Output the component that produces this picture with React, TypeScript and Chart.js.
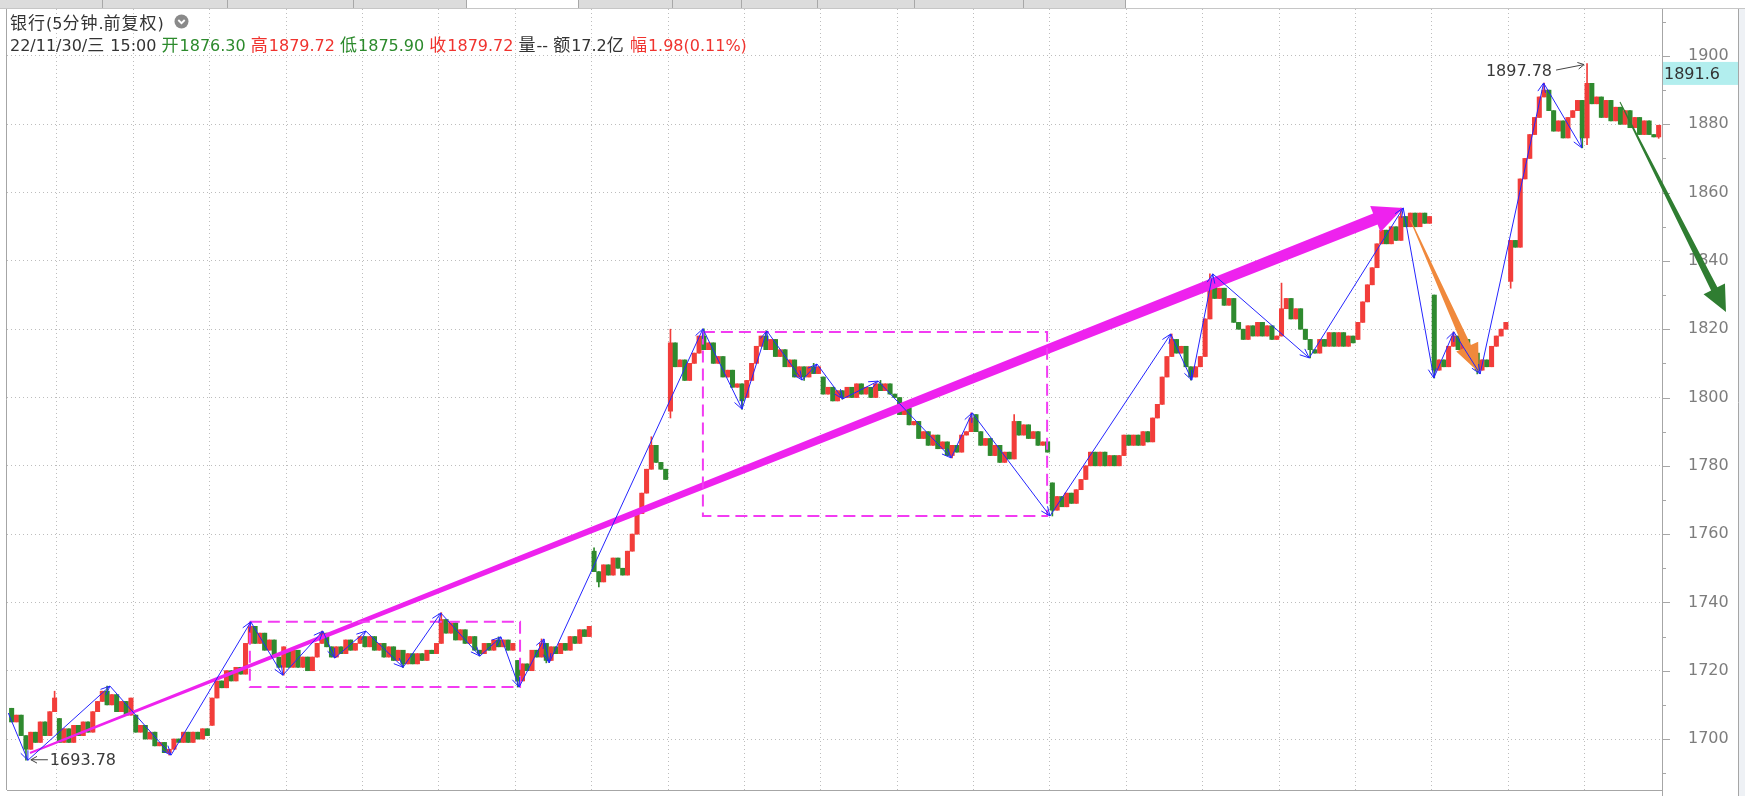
import React, { useEffect, useRef } from "react";
import { Chart, registerables } from "chart.js";

Chart.register(...registerables);

// ================= DATA (15-minute bars) =================
// opening price of each trading session
const sessionOpens = [1709, 1706, 1707, 1704, 1726, 1730, 1728, 1723, 1755, 1796, 1800, 1806, 1800, 1795, 1775, 1789, 1812, 1818, 1817, 1830, 1834, 1876];
// closes of each bar, one list per session
const session00 = [1705, 1707, 1701, 1697, 1702, 1699, 1705, 1701, 1708, 1712];
const session01 = [1699, 1703, 1699, 1704, 1701, 1705, 1702, 1708, 1711, 1714, 1710, 1713, 1708, 1711, 1707, 1712];
const session02 = [1702, 1704, 1700, 1702, 1698, 1699, 1696, 1697, 1700, 1699, 1702, 1699, 1702, 1700, 1703, 1701];
const session03 = [1712, 1717, 1715, 1720, 1717, 1721, 1719, 1728, 1733, 1728, 1731, 1726, 1729, 1724, 1721, 1727];
const session04 = [1721, 1726, 1721, 1724, 1720, 1724, 1728, 1731, 1727, 1724, 1727, 1725, 1729, 1726, 1728, 1730];
const session05 = [1727, 1730, 1726, 1728, 1724, 1727, 1723, 1726, 1722, 1725, 1722, 1725, 1723, 1726, 1725, 1728];
const session06 = [1735, 1731, 1734, 1729, 1732, 1728, 1730, 1726, 1725, 1728, 1726, 1729, 1727, 1729, 1726, 1728];
const session07 = [1717, 1722, 1720, 1726, 1724, 1728, 1723, 1727, 1725, 1728, 1726, 1730, 1728, 1732, 1730, 1733];
const session08 = [1749, 1746, 1751, 1748, 1753, 1750, 1748, 1755, 1760, 1766, 1772, 1779, 1786, 1781, 1779, 1776];
const session09 = [1816, 1809, 1811, 1805, 1810, 1813, 1818, 1814, 1816, 1810, 1812, 1806, 1808, 1803, 1804, 1799];
const session10 = [1805, 1810, 1815, 1818, 1814, 1817, 1812, 1814, 1809, 1811, 1806, 1809, 1806, 1809, 1807, 1809];
const session11 = [1801, 1803, 1799, 1802, 1800, 1803, 1800, 1804, 1801, 1803, 1800, 1804, 1802, 1804, 1801, 1800];
const session12 = [1795, 1797, 1792, 1793, 1788, 1790, 1786, 1789, 1785, 1787, 1783, 1786, 1784, 1789, 1790, 1794];
const session13 = [1790, 1786, 1788, 1783, 1786, 1781, 1784, 1782, 1793, 1789, 1792, 1788, 1790, 1786, 1787, 1784];
const session14 = [1767, 1771, 1768, 1772, 1769, 1773, 1776, 1780, 1784, 1780, 1784, 1780, 1783, 1780, 1783, 1789];
const session15 = [1786, 1789, 1786, 1790, 1787, 1794, 1798, 1806, 1812, 1817, 1813, 1815, 1809, 1806, 1809, 1812];
const session16 = [1823, 1834, 1829, 1832, 1827, 1829, 1822, 1820, 1817, 1821, 1818, 1822, 1818, 1821, 1817, 1818];
const session17 = [1826, 1829, 1823, 1826, 1820, 1817, 1814, 1813, 1817, 1815, 1819, 1815, 1819, 1815, 1818, 1816];
const session18 = [1822, 1828, 1833, 1838, 1845, 1849, 1845, 1850, 1846, 1853, 1850, 1854, 1850, 1854, 1851, 1853];
const session19 = [1808, 1811, 1809, 1815, 1818, 1814, 1817, 1814, 1813, 1808, 1811, 1809, 1815, 1818, 1820, 1822];
const session20 = [1846, 1844, 1864, 1870, 1877, 1882, 1888, 1890, 1884, 1878, 1881, 1876, 1882, 1884, 1887, 1876];
const session21 = [1892, 1886, 1888, 1882, 1887, 1881, 1885, 1880, 1884, 1879, 1882, 1877, 1881, 1877, 1876.3, 1879.72];

// shadows that reach beyond the body
const wickHighBars = [9, 20, 50, 65, 90, 102, 111, 122, 134, 138, 145, 158, 168, 182, 201, 210, 243, 251, 266, 291, 302, 321, 330, 345];
const wickHighValues = [1714, 1715.5, 1734.3, 1731.6, 1737, 1729.9, 1729.3, 1756, 1788.5, 1820, 1820.1, 1819.5, 1810, 1805, 1795.5, 1795, 1818.6, 1836.2, 1833.5, 1855.5, 1819.2, 1892.1, 1897.78, 1879.72];
const wickLowBars = [3, 33, 57, 82, 98, 106, 112, 123, 138, 153, 166, 174, 197, 218, 247, 272, 298, 307, 314, 329, 330, 345];
const wickLowValues = [1693.78, 1695.3, 1718.7, 1721, 1724.3, 1715.2, 1722.3, 1744.5, 1794, 1796.6, 1805, 1799.5, 1782.3, 1765.3, 1805.1, 1811.6, 1805.7, 1806.9, 1832, 1873.1, 1874, 1875.9];

// session boundaries (bar index) and price ticks
const sessionBoundaries = [9.5, 25.5, 41.5, 57.5, 73.5, 89.5, 105.5, 121.5, 137.5, 153.5, 169.5, 185.5, 201.5, 217.5, 233.5, 249.5, 265.5, 281.5, 297.5, 313.5, 329.5];
const priceTicks = [1690, 1700, 1710, 1720, 1730, 1740, 1750, 1760, 1770, 1780, 1790, 1800, 1810, 1820, 1830, 1840, 1850, 1860, 1870, 1880, 1890, 1900, 1910];

// zig-zag swing points (bar index, price)
const zigzagX = [-0.7, 3.4, 20.6, 33.4, 50.1, 56.8, 65.2, 67.7, 74.2, 82.0, 89.9, 98.1, 102.5, 106.3, 111.5, 112.6, 144.8, 153.0, 158.2, 165.6, 168.7, 174.1, 181.5, 196.8, 201.2, 217.5, 242.8, 247.2, 251.6, 271.8, 291.5, 297.9, 302.1, 307.6, 320.9, 328.9];
const zigzagY = [1707.6, 1693.78, 1715.5, 1695.3, 1734.3, 1718.7, 1731.6, 1723.7, 1731.6, 1721.0, 1736.9, 1724.3, 1729.9, 1715.2, 1729.3, 1722.3, 1820.1, 1796.6, 1819.5, 1805.1, 1809.8, 1799.6, 1804.8, 1782.3, 1795.5, 1765.3, 1818.6, 1805.1, 1836.2, 1811.6, 1855.5, 1805.7, 1819.2, 1806.9, 1892.1, 1873.1];

// consolidation boxes
const boxFromX = [49.9, 144.8];
const boxToX = [106.5, 216.9];
const boxLow = [1715.2, 1765.3];
const boxHigh = [1734.3, 1819.2];

// trend arrows: magenta, orange, green
const trendFromX = [3.85, 293.0, 336.9];
const trendFromY = [1695.9, 1852.0, 1886.5];
const trendToX = [291.5, 307.3, 359.1];
const trendToY = [1855.5, 1807.4, 1825.0];

// marked extremes
const lowMarkX = 3.4;
const lowMarkValue = 1693.78;
const highMarkX = 330;
const highMarkValue = 1897.78;

// cursor price tag
const cursorPrice = 1894.9;
const cursorText = "1891.6";

// header quote
const headerTitle = "银行(5分钟.前复权)";
const quoteTexts = ["22/11/30/三 15:00 ", "开1876.30 ", "高1879.72 ", "低1875.90 ", "收1879.72 ", "量-- 额17.2亿 ", "幅1.98(0.11%)"];
const quoteKinds = ["plain", "down", "up", "down", "up", "plain", "up"];

// ================= STYLES =================
const UP = "#f23d3a";
const DOWN = "#2f8a2f";
const ZIG = "#2424ff";
const BOX = "#f23cf2";
const TREND_COLORS = ["#ee22ee", "#f0893c", "#2f7d31"];
const TREND_W0 = [2, 1, 1];
const TREND_W1 = [12, 8, 7];
const TREND_HW = [28, 24, 24];
const TREND_HL = [30, 28, 26];
const GRID = "#bdbdbd";
const AXIS = "#a6a6a6";
const X_MIN = -0.97;
const X_MAX = 345.7;
const Y_MIN = 1685.07;
const Y_MAX = 1913.76;

const sessions = [session00, session01, session02, session03, session04, session05, session06, session07, session08, session09, session10, session11, session12, session13, session14, session15, session16, session17, session18, session19, session20, session21];

type Candle = { x: number; o: number; h: number; l: number; c: number };

function buildCandles(): Candle[] {
  const out: Candle[] = [];
  let idx = 0;
  sessions.forEach((closes, s) => {
    let prev = sessionOpens[s];
    closes.forEach((c) => {
      const o = prev;
      let h = Math.max(o, c);
      let l = Math.min(o, c);
      const hi = wickHighBars.indexOf(idx);
      if (hi >= 0) h = Math.max(h, wickHighValues[hi]);
      const li = wickLowBars.indexOf(idx);
      if (li >= 0) l = Math.min(l, wickLowValues[li]);
      out.push({ x: idx, o, h, l, c });
      prev = c;
      idx++;
    });
  });
  return out;
}

function taperedArrow(ctx: CanvasRenderingContext2D, x0: number, y0: number, x1: number, y1: number, w0: number, w1: number, hw: number, hl: number, color: string) {
  const dx = x1 - x0, dy = y1 - y0;
  const len = Math.hypot(dx, dy);
  const ux = dx / len, uy = dy / len;
  const nx = -uy, ny = ux;
  const bx = x1 - ux * hl, by = y1 - uy * hl;
  ctx.beginPath();
  ctx.moveTo(x0 + (nx * w0) / 2, y0 + (ny * w0) / 2);
  ctx.lineTo(bx + (nx * w1) / 2, by + (ny * w1) / 2);
  ctx.lineTo(bx + (nx * hw) / 2, by + (ny * hw) / 2);
  ctx.lineTo(x1, y1);
  ctx.lineTo(bx - (nx * hw) / 2, by - (ny * hw) / 2);
  ctx.lineTo(bx - (nx * w1) / 2, by - (ny * w1) / 2);
  ctx.lineTo(x0 - (nx * w0) / 2, y0 - (ny * w0) / 2);
  ctx.closePath();
  ctx.fillStyle = color;
  ctx.fill();
}

function openHead(ctx: CanvasRenderingContext2D, x0: number, y0: number, x1: number, y1: number, len: number, ang: number) {
  const a = Math.atan2(y1 - y0, x1 - x0);
  ctx.beginPath();
  ctx.moveTo(x1 - len * Math.cos(a - ang), y1 - len * Math.sin(a - ang));
  ctx.lineTo(x1, y1);
  ctx.lineTo(x1 - len * Math.cos(a + ang), y1 - len * Math.sin(a + ang));
  ctx.stroke();
}

const overlayPlugin = {
  id: "overlay",
  afterDatasetDraw(chart: any, args: any) {
    if (args.index !== 1) return;
    const ctx: CanvasRenderingContext2D = chart.ctx;
    const xs = chart.scales.x, ys = chart.scales.y;
    ctx.save();
    for (let k = 0; k < 2; k++) {
      taperedArrow(ctx, xs.getPixelForValue(trendFromX[k]), ys.getPixelForValue(trendFromY[k]), xs.getPixelForValue(trendToX[k]), ys.getPixelForValue(trendToY[k]), TREND_W0[k], TREND_W1[k], TREND_HW[k], TREND_HL[k], TREND_COLORS[k]);
    }
    ctx.restore();
  },
  afterDatasetsDraw(chart: any) {
    const ctx: CanvasRenderingContext2D = chart.ctx;
    const xs = chart.scales.x, ys = chart.scales.y;
    ctx.save();
    ctx.strokeStyle = ZIG;
    ctx.lineWidth = 1;
    for (let i = 1; i < zigzagX.length; i++) {
      openHead(ctx, xs.getPixelForValue(zigzagX[i - 1]), ys.getPixelForValue(zigzagY[i - 1]), xs.getPixelForValue(zigzagX[i]), ys.getPixelForValue(zigzagY[i]), 10, 0.4);
    }
    // extreme labels
    ctx.strokeStyle = "#444";
    ctx.fillStyle = "#3a3a3a";
    ctx.font = '16px "DejaVu Sans"';
    ctx.textBaseline = "middle";
    const lx = xs.getPixelForValue(lowMarkX), ly = ys.getPixelForValue(lowMarkValue);
    ctx.beginPath();
    ctx.moveTo(lx + 20, ly - 0.5);
    ctx.lineTo(lx + 3, ly - 0.5);
    ctx.stroke();
    openHead(ctx, lx + 20, ly - 0.5, lx + 3, ly - 0.5, 7, 0.5);
    ctx.textAlign = "left";
    ctx.fillText(lowMarkValue.toFixed(2), lx + 22, ly + 1);
    const hx = xs.getPixelForValue(highMarkX), hy = ys.getPixelForValue(highMarkValue);
    ctx.beginPath();
    ctx.moveTo(hx - 31, hy + 6.5);
    ctx.lineTo(hx - 3, hy + 1);
    ctx.stroke();
    openHead(ctx, hx - 31, hy + 6.5, hx - 3, hy + 1, 7, 0.5);
    ctx.textAlign = "right";
    ctx.fillText(highMarkValue.toFixed(2), hx - 35, hy + 8.5);
    ctx.restore();
  },
  afterDraw(chart: any) {
    const ctx: CanvasRenderingContext2D = chart.ctx;
    const xs = chart.scales.x, ys = chart.scales.y;
    const area = chart.chartArea;
    ctx.save();
    // left frame line
    ctx.strokeStyle = AXIS;
    ctx.lineWidth = 1;
    ctx.beginPath();
    ctx.moveTo(area.left - 0.5, area.top);
    ctx.lineTo(area.left - 0.5, area.bottom);
    ctx.stroke();
    // axis tick marks
    priceTicks.forEach((v) => {
      const y = Math.round(ys.getPixelForValue(v)) + 0.5;
      ctx.beginPath();
      ctx.moveTo(area.right, y);
      ctx.lineTo(area.right + (v % 20 === 0 ? 8 : 4), y);
      ctx.stroke();
    });
    // right frame line & side strip
    ctx.fillStyle = "#eef1f5";
    ctx.fillRect(1739, area.top, 6, chart.height - area.top);
    ctx.beginPath();
    ctx.moveTo(1738.5, area.top);
    ctx.lineTo(1738.5, chart.height);
    ctx.stroke();
    ctx.beginPath();
    ctx.moveTo(area.right + 0.5, area.bottom);
    ctx.lineTo(area.right + 0.5, chart.height);
    ctx.stroke();
    // cursor price tag
    const cy = ys.getPixelForValue(cursorPrice);
    ctx.fillStyle = "#b2eeee";
    ctx.fillRect(area.right + 1, cy - 11.5, 1738 - area.right - 1, 23);
    ctx.fillStyle = "#333";
    ctx.font = '16px "DejaVu Sans"';
    ctx.textBaseline = "middle";
    ctx.textAlign = "left";
    ctx.fillText(cursorText, area.right + 2, cy + 1);
    // green trend arrow (runs over the axis)
    const k = 2;
    taperedArrow(ctx, xs.getPixelForValue(trendFromX[k]), ys.getPixelForValue(trendFromY[k]), xs.getPixelForValue(trendToX[k]), ys.getPixelForValue(trendToY[k]), TREND_W0[k], TREND_W1[k], TREND_HW[k], TREND_HL[k], TREND_COLORS[k]);
    ctx.restore();
  },
};

const CJK = /[\u3000-\u9fff\uff00-\uffef]/;

function Mixed({ text, color }: { text: string; color: string }) {
  const parts: [boolean, string][] = [];
  let buf = "";
  let mode: boolean | null = null;
  for (const ch of text) {
    const isC = CJK.test(ch);
    if (mode !== null && isC !== mode) {
      parts.push([mode, buf]);
      buf = "";
    }
    mode = isC;
    buf += ch;
  }
  if (buf && mode !== null) parts.push([mode, buf]);
  return (
    <span style={{ color }}>
      {parts.map(([c, s], i) =>
        c ? (
          <span key={i} style={{ fontFamily: '"Noto Sans CJK SC"', fontSize: 17, letterSpacing: 1 }}>
            {s}
          </span>
        ) : (
          <span key={i}>{s}</span>
        )
      )}
    </span>
  );
}

const tabEdges = [0, 103, 228, 354, 467, 579, 673, 742, 818, 915, 1024, 1126];

export default function App() {
  const canvasRef = useRef<HTMLCanvasElement>(null);

  useEffect(() => {
    document.body.style.margin = "0";
    const canvas = canvasRef.current;
    if (!canvas) return;
    const candles = buildCandles();
    const colors = candles.map((k) => (k.c >= k.o ? UP : DOWN));
    const boxData = (b: number) => [
      { x: boxFromX[b], y: boxHigh[b] },
      { x: boxToX[b], y: boxHigh[b] },
      { x: boxToX[b], y: boxLow[b] },
      { x: boxFromX[b], y: boxLow[b] },
      { x: boxFromX[b], y: boxHigh[b] },
    ];
    const chart = new Chart(canvas, {
      type: "bar",
      data: {
        datasets: [
          { type: "bar", label: "wicks", data: candles.map((k) => ({ x: k.x, y: [k.l, k.h] })), backgroundColor: colors, barThickness: 1, grouped: false, order: 20 } as any,
          { type: "bar", label: "bodies", data: candles.map((k) => ({ x: k.x, y: [k.o, k.c] })), backgroundColor: colors, barThickness: 4.4, minBarLength: 1, grouped: false, order: 19 } as any,
          { type: "line", label: "box1", data: boxData(0), borderColor: BOX, borderWidth: 2, borderDash: [12, 6], pointRadius: 0, fill: false, tension: 0, order: 5 } as any,
          { type: "line", label: "box2", data: boxData(1), borderColor: BOX, borderWidth: 2, borderDash: [12, 6], pointRadius: 0, fill: false, tension: 0, order: 4 } as any,
          { type: "line", label: "zigzag", data: zigzagX.map((x, i) => ({ x, y: zigzagY[i] })), borderColor: ZIG, borderWidth: 1, pointRadius: 0, fill: false, tension: 0, order: 1 } as any,
        ],
      },
      options: {
        animation: false,
        responsive: false,
        maintainAspectRatio: false,
        devicePixelRatio: 1,
        events: [],
        layout: { padding: { left: 7, top: 9, right: 0, bottom: 0 } },
        plugins: { legend: { display: false }, tooltip: { enabled: false } },
        scales: {
          x: {
            type: "linear",
            min: X_MIN,
            max: X_MAX,
            offset: false,
            afterBuildTicks: (s: any) => {
              s.ticks = sessionBoundaries.map((v) => ({ value: v }));
            },
            afterFit: (s: any) => {
              s.height = 6;
              s.paddingLeft = 0;
              s.paddingRight = 0;
              s.paddingTop = 0;
              s.paddingBottom = 0;
            },
            grid: { color: GRID, drawTicks: false, offset: false, lineWidth: 1 },
            border: { display: true, color: AXIS, dash: [1, 3] },
            ticks: { display: false },
          },
          y: {
            type: "linear",
            position: "right",
            min: Y_MIN,
            max: Y_MAX,
            afterBuildTicks: (s: any) => {
              s.ticks = priceTicks.map((v) => ({ value: v }));
            },
            afterFit: (s: any) => {
              s.width = 83;
              s.paddingLeft = 0;
              s.paddingRight = 0;
              s.paddingTop = 0;
              s.paddingBottom = 0;
            },
            grid: {
              color: (c: any) => (c.tick && c.tick.value % 20 === 0 ? GRID : "rgba(0,0,0,0)"),
              drawTicks: true,
              tickLength: 26,
              tickColor: "rgba(0,0,0,0)",
              lineWidth: 1,
            },
            border: { display: true, color: AXIS, dash: [1, 3] },
            ticks: {
              autoSkip: false,
              padding: 0,
              color: "#7d7d7d",
              font: { family: "DejaVu Sans", size: 16, lineHeight: 0.6 },
              callback: (v: any) => (Number(v) % 20 === 0 ? String(v) : ""),
            },
          },
        },
      } as any,
      plugins: [overlayPlugin],
    });
    return () => chart.destroy();
  }, []);

  const kindColor = (k: string) => (k === "up" ? "#f0332e" : k === "down" ? "#2c8a2c" : "#333");

  return (
    <div style={{ position: "fixed", left: 0, top: 0, width: 1745, height: 796, background: "#fff", overflow: "hidden" }}>
      <canvas ref={canvasRef} width={1745} height={796} style={{ position: "absolute", left: 0, top: 0, width: 1745, height: 796 }} />
      {/* tab strip */}
      <div style={{ position: "absolute", left: 0, top: 0, width: 1745, height: 8, borderBottom: "1px solid #c6c6c6", background: "#fff" }}>
        {tabEdges.slice(0, -1).map((x, i) => (
          <div
            key={i}
            style={{
              position: "absolute",
              left: x,
              top: 0,
              width: tabEdges[i + 1] - x - 1,
              height: 8,
              background: i === 4 ? "#fff" : "#dcdcdc",
              borderRight: "1px solid #a8a8a8",
            }}
          />
        ))}
      </div>
      <div style={{ position: "absolute", left: 10, top: 12, font: '16px "DejaVu Sans", "Noto Sans CJK SC", sans-serif', lineHeight: "20px", whiteSpace: "pre" }}>
        <Mixed text={headerTitle} color="#333" />
      </div>
      <svg style={{ position: "absolute", left: 174, top: 14 }} width={15} height={15} viewBox="0 0 15 15">
        <circle cx={7.5} cy={7.5} r={7} fill="#8a8a8a" />
        <polyline points="4.3,6 7.5,9.2 10.7,6" fill="none" stroke="#fff" strokeWidth={1.8} />
      </svg>
      <div style={{ position: "absolute", left: 10, top: 34, font: '16px "DejaVu Sans", "Noto Sans CJK SC", sans-serif', lineHeight: "20px", whiteSpace: "pre" }}>
        {quoteTexts.map((t, i) => (
          <Mixed key={i} text={t} color={kindColor(quoteKinds[i])} />
        ))}
      </div>
    </div>
  );
}
